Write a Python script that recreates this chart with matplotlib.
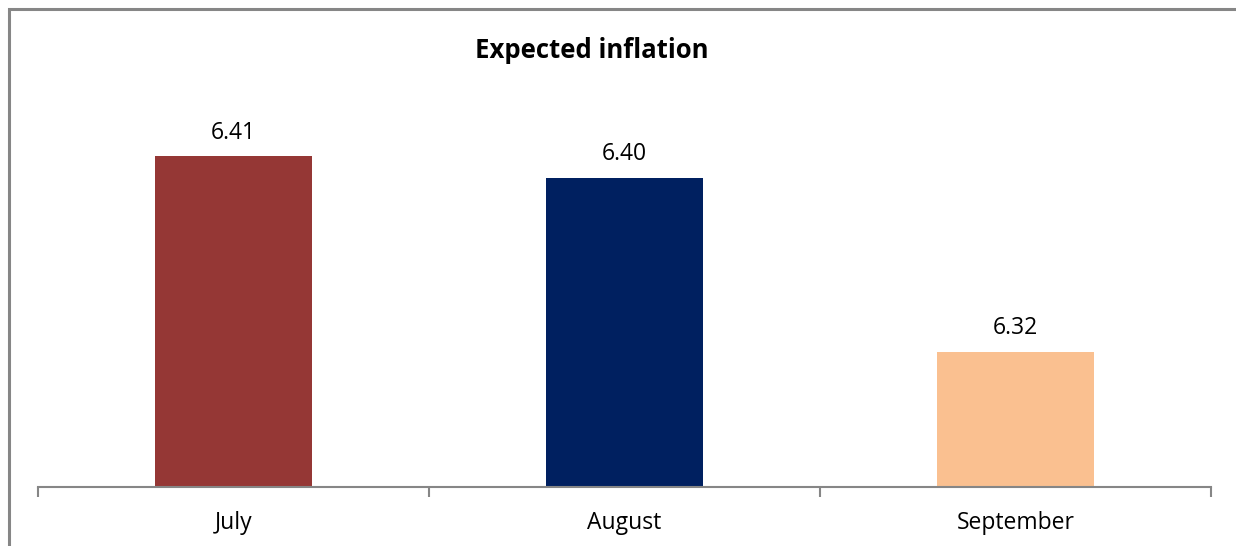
import matplotlib.pyplot as plt
from matplotlib.patches import Rectangle

months = ["July", "August", "September"]
expected = [6.41, 6.40, 6.32]
colors = ["#953735", "#002060", "#FAC090"]

plt.rcParams['font.family'] = ['Open Sans', 'DejaVu Sans']

W, H = 1236, 546
fig = plt.figure(figsize=(W / 100, H / 100), dpi=100)

# outer frame, cut off at right and bottom
fig.patches.append(Rectangle((9 / W, -0.05), 1.2, 1 - 9 / H + 0.05,
                             transform=fig.transFigure, fill=False,
                             edgecolor="#868686", linewidth=2.2))

ax = fig.add_axes([38 / W, 59 / H, (1211 - 38) / W, (487 - 98) / H])
x = range(len(months))
ax.bar(x, expected, width=0.4, color=colors)
ax.set_xlim(-0.5, 2.5)
ax.set_ylim(6.258, 6.258 + 389 / 2175)

for xi, v in zip(x, expected):
    ax.annotate(f"{v:.2f}", (xi, v), xytext=(0, 8.5), textcoords="offset points",
                ha="center", va="bottom", fontsize=16.5)

for s in ["left", "right", "top"]:
    ax.spines[s].set_visible(False)
ax.spines["bottom"].set_color("#868686")
ax.spines["bottom"].set_linewidth(1.5)
ax.set_yticks([])
ax.set_xticks([-0.5, 0.5, 1.5, 2.5], minor=False)
ax.set_xticklabels([])
ax.tick_params(axis="x", which="major", length=7, color="#868686", width=1.5)
ax.set_xticks(list(x), minor=True)
ax.set_xticklabels(months, minor=True, fontsize=16.5)
ax.tick_params(axis="x", which="minor", length=0, pad=17)

fig.text(592 / W, 1 - 51 / H, "Expected inflation", ha="center", va="center",
         fontsize=18.5, fontweight="bold")

fig.savefig("out.png", dpi=100)
